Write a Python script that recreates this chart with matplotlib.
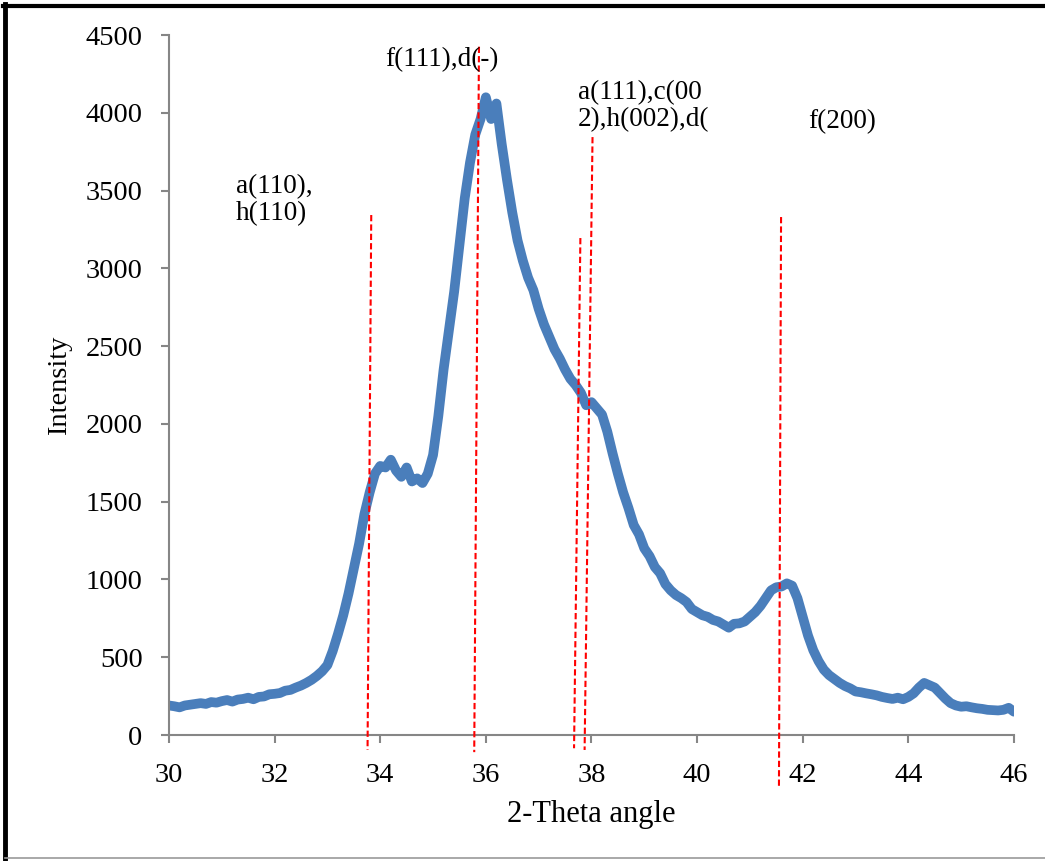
import numpy as np
import matplotlib
matplotlib.use("Agg")
from matplotlib import pyplot as plt
from matplotlib.lines import Line2D

plt.rcParams['font.family'] = ['Liberation Serif', 'DejaVu Serif']

# 2-theta from 30 to 46 in 0.1 steps
two_theta = np.round(np.arange(30.0, 46.0001, 0.1), 1)
intensity = [
    190, 185, 178, 190, 195, 200, 205, 200, 212, 208,
    218, 225, 215, 228, 232, 240, 230, 245, 248, 262,
    265, 270, 285, 290, 305, 318, 335, 355, 380, 410,
    450, 540, 650, 770, 910, 1070, 1230, 1420, 1560, 1680,
    1730, 1720, 1770, 1700, 1660, 1720, 1630, 1650, 1620, 1680,
    1800, 2050, 2350, 2600, 2850, 3150, 3450, 3680, 3860, 3960,
    4100, 3960, 4060, 3800, 3570, 3360, 3180, 3050, 2940, 2860,
    2740, 2640, 2560, 2480, 2420, 2350, 2290, 2250, 2200, 2120,
    2140, 2100, 2060, 1950, 1810, 1680, 1560, 1460, 1350, 1290,
    1200, 1150, 1080, 1040, 970, 930, 900, 880, 855, 810,
    790, 770, 760, 740, 730, 710, 690, 715, 718, 730,
    760, 790, 830, 880, 930, 950, 955, 975, 960, 880,
    760, 640, 545, 475, 420, 385, 360, 335, 315, 300,
    280, 275, 268, 262, 255, 245, 238, 232, 240, 230,
    245, 268, 305, 335, 320, 305, 270, 235, 205, 190,
    182, 185, 178, 172, 168, 162, 160, 158, 162, 175,
    150,
]

# reference lines: (x at top, y top, x at bottom, y bottom)
ref_x_top = [33.83, 35.87, 37.79, 38.02, 41.59]
ref_y_top = [3343, 4425, 3195, 3844, 3330]
ref_x_bot = [33.76, 35.78, 37.67, 37.87, 41.55]
ref_y_bot = [-96, -110, -85, -96, -334]

labels = ["a(110),\nh(110)", "f(111),d(-)", "a(111),c(00\n2),h(002),d(", "f(200)"]
label_x = [31.27, 34.09, 37.745, 42.1]
label_y = [3439, 4339, 4043, 3941]

fs = 20.5

fig = plt.figure(figsize=(10.45, 8.61), dpi=100)
ax = fig.add_axes([0.1617, 0.1463, 0.8086, 0.813])

ax.plot(two_theta, intensity, color='#4A7EBB', lw=7,
        solid_joinstyle='round', solid_capstyle='round', zorder=2)

for xt, yt, xb, yb in zip(ref_x_top, ref_y_top, ref_x_bot, ref_y_bot):
    ax.plot([xt, xb], [yt, yb], color='red', lw=1.5,
            linestyle=(0, (3, 1.5)), clip_on=False, zorder=3)

for t, x, y in zip(labels, label_x, label_y):
    ax.text(x, y, t, fontsize=19.5, ha='left', va='center', linespacing=1.1)

ax.set_xlim(30, 46)
ax.set_ylim(0, 4500)
ax.set_xticks(np.arange(30, 47, 2))
ax.set_yticks(np.arange(0, 4501, 500))
ax.tick_params(labelsize=fs, color='#868686', width=1.5, length=6, direction='out')
ax.tick_params(axis='x', pad=14)
ax.tick_params(axis='y', pad=13)
for s in ['top', 'right']:
    ax.spines[s].set_visible(False)
for s in ['left', 'bottom']:
    ax.spines[s].set_color('#868686')
    ax.spines[s].set_linewidth(1.5)

ax.set_xlabel('2-Theta angle', fontsize=22, labelpad=9)
ax.set_ylabel('Intensity', fontsize=fs, labelpad=10)

# frame around the picture
fig.add_artist(Line2D([0.005, 0.005], [0.0, 0.995], transform=fig.transFigure, color='black', lw=3.5))
fig.add_artist(Line2D([0.003, 1.0], [0.993, 0.993], transform=fig.transFigure, color='black', lw=3))
fig.add_artist(Line2D([0.005, 1.0], [0.003, 0.003], transform=fig.transFigure, color='#999999', lw=1.2))

fig.savefig('out.png', dpi=100)
